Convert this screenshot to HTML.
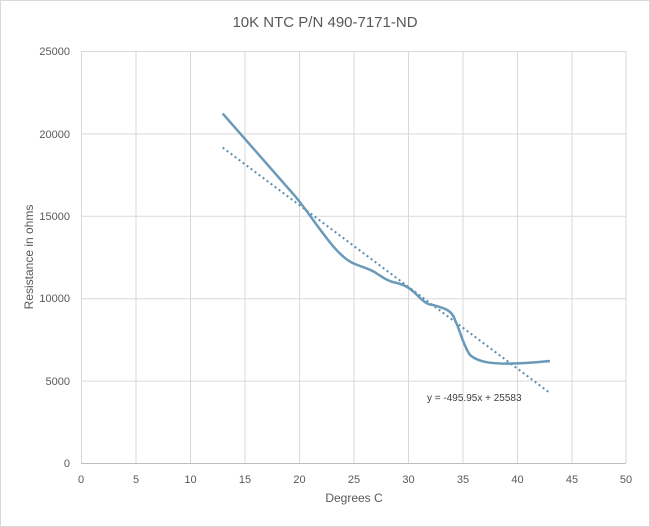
<!DOCTYPE html>
<html><head><style>
body{margin:0;background:#fff;}
svg{display:block;font-family:"Liberation Sans",sans-serif;}
</style></head><body>
<svg width="650" height="527" viewBox="0 0 650 527">
<rect x="0.5" y="0.5" width="649" height="526" fill="#fff" stroke="#d9d9d9"/>
<text x="325" y="27" text-anchor="middle" font-size="15" fill="#595959">10K NTC P/N 490-7171-ND</text>
<g stroke="#d9d9d9" stroke-width="1">
<line x1="81" y1="51.5" x2="626" y2="51.5"/>
<line x1="81" y1="133.9" x2="626" y2="133.9"/>
<line x1="81" y1="216.3" x2="626" y2="216.3"/>
<line x1="81" y1="298.7" x2="626" y2="298.7"/>
<line x1="81" y1="381.1" x2="626" y2="381.1"/>
<line x1="81" y1="463.5" x2="626" y2="463.5" stroke="#bfbfbf"/>
<line x1="81.5" y1="51" x2="81.5" y2="463"/>
<line x1="136" y1="51" x2="136" y2="463"/>
<line x1="190.5" y1="51" x2="190.5" y2="463"/>
<line x1="245" y1="51" x2="245" y2="463"/>
<line x1="299.5" y1="51" x2="299.5" y2="463"/>
<line x1="354" y1="51" x2="354" y2="463"/>
<line x1="408.5" y1="51" x2="408.5" y2="463"/>
<line x1="463" y1="51" x2="463" y2="463"/>
<line x1="517.5" y1="51" x2="517.5" y2="463"/>
<line x1="572" y1="51" x2="572" y2="463"/>
<line x1="626" y1="51" x2="626" y2="463"/>
</g>
<g font-size="11" fill="#595959" text-anchor="end">
<text x="70" y="55">25000</text>
<text x="70" y="138">20000</text>
<text x="70" y="220">15000</text>
<text x="70" y="302">10000</text>
<text x="70" y="385">5000</text>
<text x="70" y="467">0</text>
</g>
<g font-size="11" fill="#595959" text-anchor="middle">
<text x="81" y="483">0</text><text x="136" y="483">5</text><text x="190.5" y="483">10</text>
<text x="245" y="483">15</text><text x="299.5" y="483">20</text><text x="354" y="483">25</text>
<text x="408.5" y="483">30</text><text x="463" y="483">35</text><text x="517.5" y="483">40</text>
<text x="572" y="483">45</text><text x="626" y="483">50</text>
</g>
<text x="354" y="502" text-anchor="middle" font-size="12" fill="#595959">Degrees C</text>
<text transform="translate(33,257) rotate(-90)" text-anchor="middle" font-size="12" fill="#595959">Resistance in ohms</text>
<line x1="222.7" y1="147.6" x2="549.7" y2="392.8" stroke="#5b8fb0" stroke-width="2" stroke-dasharray="2,3"/>
<path d="M222.7,113.6 L295,196 C315,220 335,256 354,263.6 C365,268 372,270 376,273 C385,279 390,282 397,283 C405,285 410,288 417,295 C424,302 428,305 433,305 C444,308 452,310 455,320 C460,330 463,345 470,355 C478,362 490,363 500,363.5 C520,364 540,362 550,361" fill="none" stroke="#6a9ab8" stroke-width="2.5"/>
<text x="427" y="401" font-size="10" fill="#404040">y = -495.95x + 25583</text>
</svg>
</body></html>
